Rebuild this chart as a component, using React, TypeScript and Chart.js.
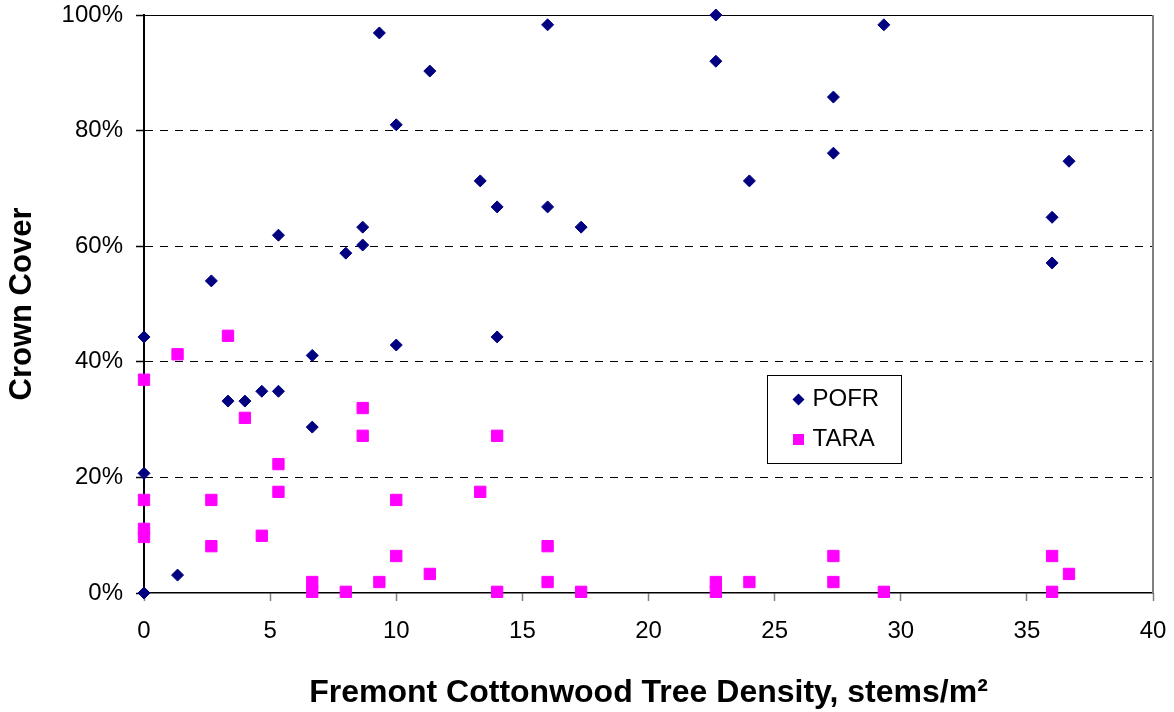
import { useEffect, useRef } from "react";
import { Chart, registerables } from "chart.js";

Chart.register(...registerables);

// ---- Data ----
const pofrX = [0, 0, 0, 1.33, 2.67, 3.33, 4.0, 4.67, 5.33, 5.33, 6.67, 6.67, 8.0, 8.67, 8.67, 9.33, 10.0, 10.0, 11.33, 13.33, 14.0, 14.0, 16.0, 16.0, 17.33, 22.67, 22.67, 24.0, 27.33, 27.33, 29.33, 36.0, 36.0, 36.67];
const pofrY = [44.3, 20.7, 0, 3.1, 54.0, 33.2, 33.2, 34.9, 34.9, 61.9, 41.1, 28.7, 58.8, 63.3, 60.2, 96.9, 81.0, 42.9, 90.3, 71.3, 66.8, 44.3, 98.3, 66.8, 63.3, 100, 92.0, 71.3, 85.8, 76.1, 98.3, 65.0, 57.1, 74.7];

const taraX = [0, 0, 0, 0, 1.33, 2.67, 2.67, 3.33, 4.0, 4.67, 5.33, 5.33, 6.67, 6.67, 8.0, 8.67, 8.67, 9.33, 10.0, 10.0, 11.33, 13.33, 14.0, 14.0, 16.0, 16.0, 17.33, 22.67, 22.67, 24.0, 27.33, 27.33, 29.33, 36.0, 36.0, 36.67];
const taraY = [36.9, 16.1, 11.1, 9.7, 41.3, 16.1, 8.1, 44.5, 30.3, 9.9, 22.3, 17.5, 1.9, 0.2, 0.2, 32.0, 27.2, 1.9, 16.1, 6.4, 3.3, 17.5, 27.2, 0.2, 8.1, 1.9, 0.2, 1.9, 0.2, 1.9, 6.4, 1.9, 0.2, 6.4, 0.2, 3.3];

const seriesNames = ["POFR", "TARA"];
const seriesColors = ["#000080", "#FF00FF"];
const xMin = 0;
const xMax = 40;
const xStep = 5;
const yMin = 0;
const yMax = 100;
const yStep = 20;
const xTitle = "Fremont Cottonwood Tree Density, stems/m²";
const yTitle = "Crown Cover";

const FONT = '"Liberation Sans", Arial, sans-serif';

const toPoints = (xs: number[], ys: number[]) => xs.map((x, i) => ({ x, y: ys[i] }));

const framePlugin = {
  id: "frameAndLegend",
  afterDatasetsDraw(chart: any) {
    const { ctx, chartArea } = chart;
    ctx.save();
    // right border of plot area
    ctx.strokeStyle = "#808080";
    ctx.lineWidth = 2;
    ctx.beginPath();
    ctx.moveTo(chartArea.right, chartArea.top);
    ctx.lineTo(chartArea.right, chartArea.bottom);
    ctx.stroke();

    // legend box
    const w = chartArea.right - chartArea.left;
    const h = chartArea.bottom - chartArea.top;
    const bx = Math.round(chartArea.left + w * 0.617) + 0.5;
    const by = Math.round(chartArea.top + h * 0.623) + 0.5;
    const bw = 134;
    const bh = 88;
    ctx.fillStyle = "#ffffff";
    ctx.fillRect(bx, by, bw, bh);
    ctx.strokeStyle = "#000000";
    ctx.lineWidth = 1;
    ctx.strokeRect(bx, by, bw, bh);

    const mx = bx + 31;
    const y1 = by + 24;
    const y2 = by + 64;
    // diamond
    ctx.fillStyle = seriesColors[0];
    ctx.beginPath();
    ctx.moveTo(mx - 6, y1);
    ctx.lineTo(mx, y1 - 6);
    ctx.lineTo(mx + 6, y1);
    ctx.lineTo(mx, y1 + 6);
    ctx.closePath();
    ctx.fill();
    // square
    ctx.fillStyle = seriesColors[1];
    ctx.fillRect(mx - 5.5, y2 - 5.5, 11, 11);

    ctx.fillStyle = "#000000";
    ctx.font = `24px ${FONT}`;
    ctx.textBaseline = "middle";
    ctx.textAlign = "left";
    ctx.fillText(seriesNames[0], bx + 45, y1);
    ctx.fillText(seriesNames[1], bx + 45, y2);
    ctx.restore();
  },
};

export default function App() {
  const ref = useRef<HTMLCanvasElement>(null);

  useEffect(() => {
    document.body.style.margin = "0";
    const canvas = ref.current!;
    const chart = new Chart(canvas, {
      type: "scatter",
      data: {
        datasets: [
          {
            label: seriesNames[0],
            data: toPoints(pofrX, pofrY),
            pointStyle: "rectRot",
            pointRadius: 6,
            backgroundColor: seriesColors[0],
            borderColor: seriesColors[0],
            borderWidth: 1,
            clip: false as any,
          },
          {
            label: seriesNames[1],
            data: toPoints(taraX, taraY),
            pointStyle: "rect",
            pointRadius: 8,
            backgroundColor: seriesColors[1],
            borderColor: seriesColors[1],
            borderWidth: 1,
            clip: false as any,
          },
        ],
      },
      options: {
        responsive: false,
        animation: false,
        devicePixelRatio: 1,
        layout: { padding: { top: 15, right: 21, left: 0, bottom: 0 } },
        plugins: {
          legend: { display: false },
          tooltip: { enabled: false },
        },
        scales: {
          x: {
            type: "linear",
            min: xMin,
            max: xMax,
            ticks: {
              stepSize: xStep,
              color: "#000",
              padding: 16,
              font: { family: FONT, size: 24 },
            },
            grid: {
              drawOnChartArea: false,
              drawTicks: true,
              tickLength: 8,
              tickColor: "#808080",
              tickWidth: 1.5,
            },
            border: { color: "#000", width: 1.5 },
            title: {
              display: true,
              text: xTitle,
              color: "#000",
              font: { family: FONT, size: 32, weight: "bold" },
              padding: { top: 0, bottom: 0 },
            },
            afterFit: (scale: any) => {
              scale.height = 119;
              scale.paddingLeft = 0;
              scale.paddingRight = 0;
            },
          },
          y: {
            type: "linear",
            min: yMin,
            max: yMax,
            ticks: {
              stepSize: yStep,
              color: "#000",
              padding: 13,
              font: { family: FONT, size: 24 },
              callback: (v: any) => `${v}%`,
            },
            grid: {
              color: (c: any) => (c.tick && c.tick.value === yMin ? "rgba(0,0,0,0)" : "#000"),
              lineWidth: 1,
              drawTicks: true,
              tickLength: 8,
              tickColor: "#000",
              tickBorderDash: [],
              tickWidth: 1.5,
            } as any,
            border: {
              color: "#000",
              width: 2,
              dash: (c: any) => (c.tick && c.tick.value !== yMax ? [8, 7] : []),
            } as any,
            title: {
              display: true,
              text: yTitle,
              color: "#000",
              font: { family: FONT, size: 31, weight: "bold" },
              padding: { top: 4, bottom: 0 },
            },
            afterFit: (scale: any) => {
              scale.width = 144;
              scale.paddingTop = 0;
              scale.paddingBottom = 0;
            },
          },
        },
      },
      plugins: [framePlugin],
    });
    return () => chart.destroy();
  }, []);

  return (
    <canvas
      ref={ref}
      width={1174}
      height={712}
      style={{ display: "block", width: 1174, height: 712 }}
    />
  );
}
